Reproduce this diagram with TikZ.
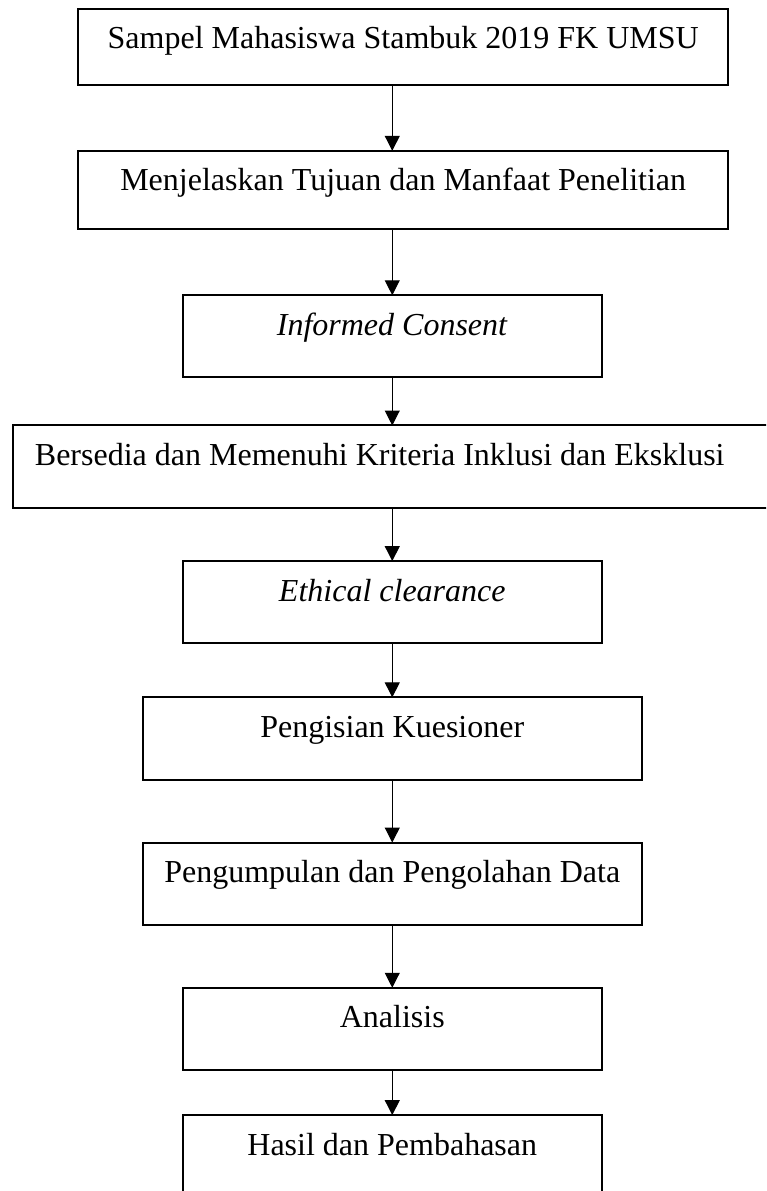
\documentclass[tikz,border=0pt]{standalone}
\usepackage{fontspec}
\setmainfont{Liberation Serif}
\usetikzlibrary{arrows.meta,positioning}
\tikzset{
  box/.style={
    draw,
    line width=0.75pt,
    inner xsep=0pt,
    inner ysep=0pt,
    outer sep=0pt,
    text height=15pt,
    text depth=15.85pt,
    font=\fontsize{12}{14}\selectfont
  },
  widebox/.style={box, minimum width=243.6pt},
  midbox/.style={box, minimum width=187pt},
  smallbox/.style={box, minimum width=157.3pt},
  longbox/.style={box, minimum width=284.6pt},
  arrow/.style={-{Triangle[length=5.6pt,width=5.6pt]}, line width=0.4pt},
}

\begin{document}
\begin{tikzpicture}
\path[use as bounding box, clip] (0,0) rectangle (287.25pt,-446.625pt);

% Sampel dan persetujuan
\node[widebox, text depth=13.5pt, anchor=north west] (sampel) at (29.4pt,-3.3pt) {Sampel Mahasiswa Stambuk 2019 FK UMSU};
\node[widebox, text depth=14.4pt, below=24.75pt of sampel] (tujuan) {Menjelaskan Tujuan dan Manfaat Penelitian};
\node[smallbox, below=24.75pt of tujuan, xshift=-4.1pt] (consent) {\textit{Informed Consent}};
\node[longbox, below=18pt of consent] (kriteria) {\makebox[268pt][l]{Bersedia dan Memenuhi Kriteria Inklusi dan Eksklusi}};
\node[smallbox, below=20pt of kriteria] (ethical) {\textit{Ethical clearance}};

\draw[arrow] (sampel.south -| consent) -- (tujuan.north -| consent);
\draw[arrow] (tujuan.south -| consent) -- (consent);
\draw[arrow] (consent) -- (kriteria.north -| consent);
\draw[arrow] (kriteria.south -| consent) -- (ethical);

% Pengumpulan data dan analisis
\node[midbox, below=20.25pt of ethical] (kuesioner) {Pengisian Kuesioner};
\node[midbox, below=23.6pt of kuesioner] (olah) {Pengumpulan dan Pengolahan Data};
\node[smallbox, below=23.6pt of olah] (analisis) {Analisis};
\node[smallbox, below=16.9pt of analisis] (hasil) {Hasil dan Pembahasan};

\draw[arrow] (ethical) -- (kuesioner);
\draw[arrow] (kuesioner) -- (olah);
\draw[arrow] (olah) -- (analisis);
\draw[arrow] (analisis) -- (hasil);

\end{tikzpicture}
\end{document}
